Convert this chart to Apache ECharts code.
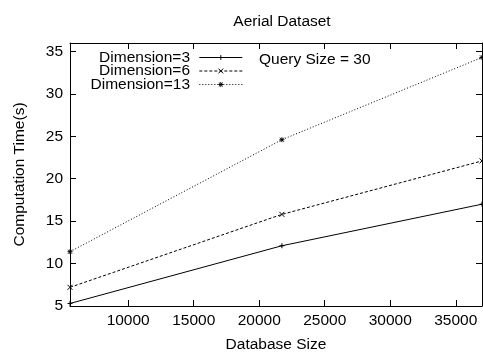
<!DOCTYPE html>
<html>
<head>
<meta charset="utf-8">
<script src="https://cdn.jsdelivr.net/npm/echarts@6/dist/echarts.min.js"></script>
<style>
  html, body { margin: 0; padding: 0; background: #fff; }
  #chart { width: 483px; height: 352px; }
</style>
</head>
<body>
<div id="chart"></div>
<script>
// database sizes (x) and computation times (s) per dimension
const dbSizes = [5560, 21730, 37000]
const dim3 = [5.3, 12.1, 17.0]
const dim6 = [7.2, 15.8, 22.1]
const dim13 = [11.4, 24.6, 34.3]
const seriesNames = ['Dimension=3', 'Dimension=6', 'Dimension=13']

const font = "'Liberation Sans', Arial, sans-serif"
const fs = 15.5
const plus = 'path://M0,5L10,5M5,0L5,10'
const cross = 'path://M0,0L10,10M10,0L0,10'
const star = 'path://M0,5L10,5M5,0L5,10M1,1L9,9M9,1L1,9'

function pairs (ys) {
  return dbSizes.map((x, i) => [x, ys[i]])
}

function mkSeries (name, ys, symbol, dash) {
  return {
    name: name,
    type: 'line',
    data: pairs(ys),
    symbol: symbol,
    symbolSize: 5,
    showSymbol: true,
    clip: false,
    lineStyle: { color: '#000', width: 1, type: dash },
    itemStyle: { color: '#000', borderColor: '#000', borderWidth: 1 },
    emphasis: { disabled: true }
  }
}

const axisCommon = {
  type: 'value',
  axisLine: { show: true, lineStyle: { color: '#000', width: 1 } },
  axisTick: { show: true, inside: true, length: 6, lineStyle: { color: '#000' } },
  splitLine: { show: false },
  axisLabel: { color: '#000', fontSize: fs, fontFamily: font, formatter: v => String(v) }
}

const chart = echarts.init(document.getElementById('chart'))
chart.setOption({
  animation: false,
  backgroundColor: '#fff',
  title: {
    text: 'Aerial Dataset',
    left: 277,
    top: 9,
    textAlign: 'center',
    textStyle: { color: '#000', fontSize: fs, fontWeight: 'normal', fontFamily: font }
  },
  grid: { left: 70, right: 1, top: 43, bottom: 46, outerBoundsMode: 'none', containLabel: false },
  legend: {
    orient: 'vertical',
    left: 85.5,
    top: 44.5,
    align: 'right',
    itemWidth: 43,
    itemHeight: 6,
    itemGap: -2.5,
    selectedMode: false,
    data: seriesNames,
    formatter: name => name + '\u00a0',
    lineStyle: { width: 1 },
    itemStyle: { borderWidth: 1 },
    textStyle: {
      color: '#000', fontSize: fs, fontFamily: font,
      width: 110, align: 'right'
    }
  },
  graphic: [{
    type: 'text',
    left: 259,
    top: 52,
    style: { text: 'Query Size = 30', fill: '#000', font: fs + 'px ' + font }
  }],
  xAxis: [
    Object.assign({}, axisCommon, {
      min: 5560,
      max: 37000,
      name: 'Database Size',
      nameLocation: 'middle',
      nameGap: 31,
      nameTextStyle: { color: '#000', fontSize: fs, fontFamily: font },
      axisLabel: Object.assign({}, axisCommon.axisLabel, { margin: 7, showMinLabel: false, showMaxLabel: false })
    }),
    Object.assign({}, axisCommon, {
      min: 5560,
      max: 37000,
      position: 'top',
      axisLabel: { show: false }
    })
  ],
  yAxis: [
    Object.assign({}, axisCommon, {
      min: 5,
      max: 36,
      name: 'Computation Time(s)',
      nameLocation: 'middle',
      nameGap: 42,
      nameTextStyle: { color: '#000', fontSize: fs, fontFamily: font },
      axisLabel: Object.assign({}, axisCommon.axisLabel, { margin: 7, showMaxLabel: false })
    }),
    Object.assign({}, axisCommon, {
      min: 5,
      max: 36,
      position: 'right',
      axisLabel: { show: false }
    })
  ],
  series: [
    mkSeries(seriesNames[0], dim3, plus, 'solid'),
    mkSeries(seriesNames[1], dim6, cross, [3, 2]),
    mkSeries(seriesNames[2], dim13, star, [1, 2])
  ]
})
</script>
</body>
</html>
